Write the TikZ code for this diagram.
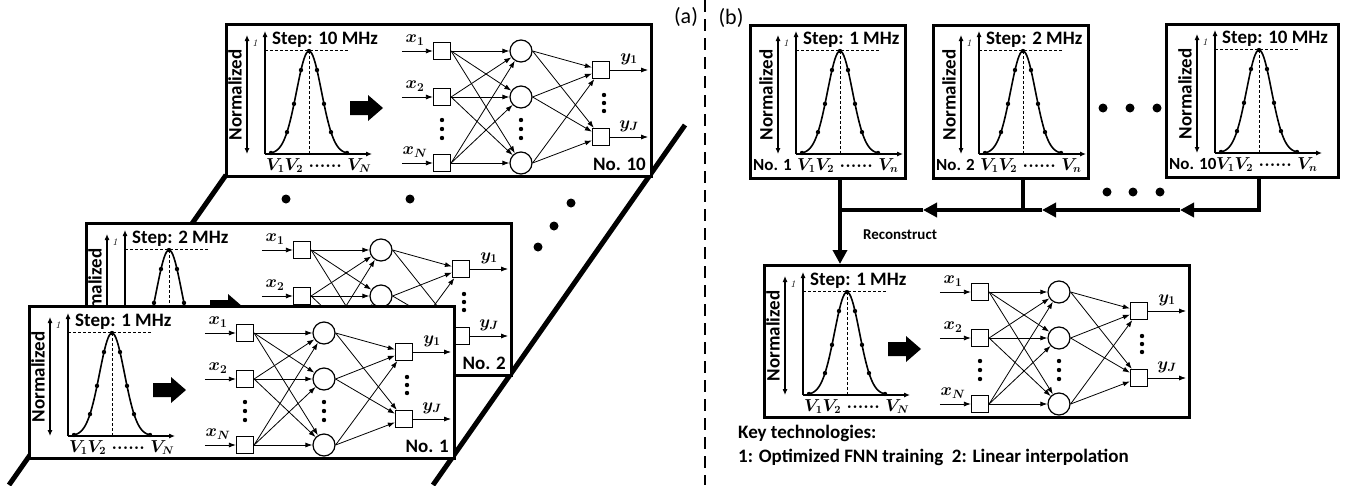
\documentclass[tikz,border=0pt]{standalone}
\usepackage{fontspec}
\usepackage{tikz}
\usetikzlibrary{arrows.meta, calc}
\newfontfamily\calfont{Carlito}
\newcommand{\sixdots}{{\cdotp}{\cdotp}{\cdotp}{\cdotp}{\cdotp}{\cdotp}}

\tikzset{
    panel/.style={draw, line width=2.6pt, fill=white, anchor=north west, inner sep=0pt},
    unit/.style={draw, line width=1.2pt, fill=white, minimum size=17pt, inner sep=0pt},
    neuron/.style={draw, circle, line width=1.2pt, fill=white, minimum size=22pt, inner sep=0pt},
    link/.style={line width=0.8pt, -{Latex[length=7pt,width=5pt]}},
    axis/.style={line width=1.1pt},
    curve/.style={line width=1.6pt},
    guide/.style={line width=0.6pt, dash pattern=on 3pt off 2pt},
    normtext/.style={font=\calfont\bfseries\fontsize{19}{19}\selectfont, inner sep=0pt, rotate=90},
    steptext/.style={font=\calfont\bfseries\fontsize{19}{19}\selectfont, inner sep=0pt},
    notext/.style={font=\calfont\bfseries\fontsize{17}{17}\selectfont, inner sep=0pt},
    varlbl/.style={font=\fontsize{17}{17}\selectfont\boldmath, inner sep=0pt},
    voltlbl/.style={font=\fontsize{16}{16}\selectfont\boldmath, inner sep=0pt},
    onelbl/.style={font=\fontsize{10}{10}\selectfont, inner sep=0pt},
    bline/.style={line width=4pt},
    bhead/.style={-{Triangle[length=14pt,width=14pt]}}
}

% spectrum plot, origin at the axis corner
\newcommand{\specplot}[4]{%
  \begin{scope}[shift={#2}]
    \node[normtext] (#1-norm) at (-30,-59) {Normalized};
    \draw[axis, {Latex[length=6pt,width=5pt]}-{Latex[length=6pt,width=5pt]}] (-18,0) -- (-18,-119);
    \node[onelbl] (#1-one) at (-10,-111) {$\mathit{1}$};
    \draw[axis, -{Latex[length=6pt,width=5pt]}] (0,0) -- (0,-123);
    \draw[axis, -{Latex[length=6pt,width=5pt]}] (0,0) -- (107,0);
    \node[steptext, anchor=west] (#1-step) at (7,-114) {#3};
    \draw[guide] (0,-104) -- (84,-104);
    \coordinate (#1-pk) at (44,-103);
    \draw[guide] (#1-pk) -- (44,0);
    \draw[curve] plot[domain=-38:38, samples=61] ({44+\x}, {-103*exp(-\x*\x/312.5)});
    \foreach \d in {-38,-22,-15,-8,0,8,15,22,38}
      \fill ({44+\d}, {-103*exp(-\d*\d/312.5)}) circle (2.2);
    \node[voltlbl, anchor=base west] (#1-volt) at (1,16) {#4};
  \end{scope}}

% plot followed by the FNN
\newcommand{\fnnpanel}[4]{%
  \begin{scope}[shift={#2}]
    \node[panel, minimum width=425pt, minimum height=152pt] (#1) at (0,0) {};
    \specplot{#1}{(40,131)}{#3}{$V_1V_2\;\sixdots\;V_N$}
    \fill (125,78) -- (143,78) -- (143,72) -- (158,85) -- (143,98) -- (143,92) -- (125,92) -- cycle;
    \node[unit] (#1-i1) at (217,28) {};
    \node[unit] (#1-i2) at (217,74) {};
    \node[unit] (#1-i3) at (217,140) {};
    \node[neuron] (#1-h1) at (296,28) {};
    \node[neuron] (#1-h2) at (296,74) {};
    \node[neuron] (#1-h3) at (296,140) {};
    \node[unit] (#1-o1) at (376,47) {};
    \node[unit] (#1-o2) at (376,114) {};
    \foreach \a in {1,2,3}{
      \draw[link] ([xshift=-31pt]#1-i\a.west) -- (#1-i\a);
      \foreach \b in {1,2,3}
        \draw[link] (#1-i\a.east) -- (#1-h\b);
    }
    \foreach \b in {1,2,3}
      \foreach \c in {1,2}
        \draw[link] (#1-h\b.east) -- (#1-o\c);
    \foreach \c in {1,2}
      \draw[link] (#1-o\c) -- ([xshift=38pt]#1-o\c.east);
    \node[varlbl] (#1-x1) at (190,17) {$x_1$};
    \node[varlbl] (#1-x2) at (190,63) {$x_2$};
    \node[varlbl] (#1-xn) at (190,129) {$x_N$};
    \node[varlbl] (#1-y1) at (404,36) {$y_1$};
    \node[varlbl] (#1-yj) at (404,103) {$y_J$};
    \foreach \yy in {97,106,115}{
      \fill (217,\yy) circle (2.2);
      \fill (296,\yy) circle (2.2);
    }
    \foreach \yy in {72,80,88}
      \fill (379,\yy) circle (2.2);
    \node[steptext, anchor=east] (#1-no) at (421,141) {#4};
  \end{scope}}

% plot only, in a small box
\newcommand{\specbox}[6]{%
  \begin{scope}[shift={#2}]
    \node[panel, minimum width=#3, minimum height=153pt] (#1) at (0,0) {};
    \specplot{#1}{#4}{#5}{$V_1V_2\;\sixdots\;V_n$}
    \node[notext, anchor=west] (#1-no) at (4,141) {#6};
  \end{scope}}

\begin{document}
\begin{tikzpicture}[x=1pt, y=-1pt]
\useasboundingbox (0,0) rectangle (1347,485);

% (a) stack of trained networks
\draw[line width=5pt] (226,175) -- (9,485);
\draw[line width=5pt] (685,125) -- (433,485);
\fnnpanel{pa10}{(225,23)}{Step: 10 MHz}{No. 10}
\fnnpanel{pa2}{(85,222)}{Step: 2 MHz}{No. 2}
\fnnpanel{pa1}{(28,305)}{Step: 1 MHz}{No. 1}
\foreach \p in {(286,199),(410,199),(571,203),(554,226),(538,247)}
  \fill \p circle (4.5);
\node[font=\calfont\fontsize{22}{22}\selectfont] (tag-a) at (686,17) {(a)};

\draw[line width=2.5pt, dash pattern=on 12pt off 7pt] (705,0) -- (705,485);

% (b) reconstruction from the coarse steps
\node[font=\calfont\fontsize{22}{22}\selectfont] (tag-b) at (731,18) {(b)};
\specbox{sb1}{(749,24)}{155pt}{(47,130)}{Step: 1 MHz}{No. 1}
\specbox{sb2}{(932,24)}{155pt}{(47,130)}{Step: 2 MHz}{No. 2}
\specbox{sb3}{(1165,23)}{172pt}{(50,130)}{Step: 10 MHz}{No. 10}
\foreach \p in {(1103,108),(1130,108),(1157,108),(1107,192),(1133,192),(1160,192)}
  \fill \p circle (4.5);
\fnnpanel{pb}{(763,264)}{Step: 1 MHz}{}

\coordinate (j1) at (sb1-pk |- 0,210);
\coordinate (j2) at (sb2-pk |- 0,210);
\coordinate (m1) at (923,210);
\coordinate (m2) at (1042,210);
\coordinate (m3) at (1180,210);
\draw[bline, bhead] (sb3-pk |- sb3.south) |- (m3);
\draw[bline, bhead] (m3) -- (m2);
\draw[bline] (sb2-pk |- sb2.south) -- (j2);
\draw[bline, bhead] (m2) -- (m1);
\draw[bline] (m1) -- (j1);
\draw[bline] (sb1-pk |- sb1.south) -- (j1);
\draw[bline, bhead] (j1) -- (j1 |- pb.north);
\node[font=\calfont\bfseries\fontsize{15}{15}\selectfont] (recon) at (900,235) {Reconstruct};

\node[steptext, anchor=west] (key1) at (738,433) {Key technologies:};
\node[steptext, anchor=west] (key2) at (738,457) {1: Optimized FNN training\ \ 2: Linear interpolation};

\end{tikzpicture}
\end{document}
